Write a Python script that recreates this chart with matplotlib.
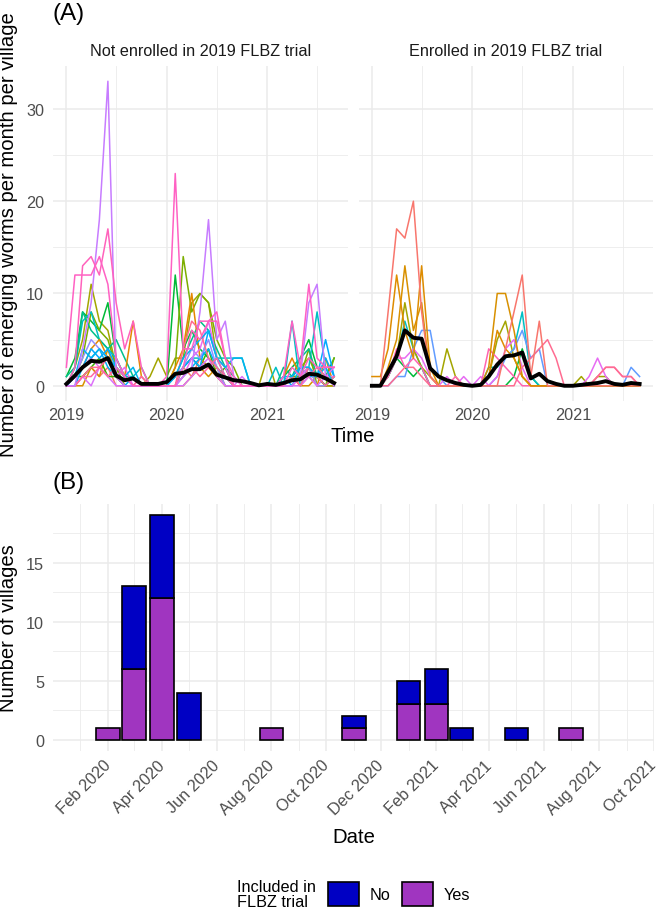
import matplotlib
matplotlib.use("Agg")
import matplotlib.pyplot as plt
import matplotlib.dates as mdates
import matplotlib.transforms as mtransforms
from matplotlib.patches import Patch
from matplotlib.ticker import MultipleLocator
import numpy as np
import pandas as pd

plt.rcParams['font.family'] = ['Liberation Sans', 'DejaVu Sans']

# ---------------- Data: panel A (monthly emerging worms per village) ----------------
months = pd.date_range('2019-01-01', '2021-09-01', freq='MS')  # 33 months

facet_titles = ["Not enrolled in 2019 FLBZ trial", "Enrolled in 2019 FLBZ trial"]

# Not enrolled villages (Jan 2019 .. Sep 2021)
nv_purple = [0,0,4,9,18,33,1,0,0,0,0,0,  0,0,1,2,8,18,5,7,1,0,0,0,  0,0,0,0,1,9,11,1,0]
nv_pink1  = [2,12,12,12,14,11,3,1,0,0,0,0,  1,23,4,4,7,7,8,3,1,0,0,0,  0,0,1,7,2,11,3,2,2]
nv_pink2  = [0,2,13,14,12,17,9,4,7,2,0,0,  0,0,2,6,5,7,7,3,0,0,0,0,  0,0,0,2,1,3,2,2,2]
nv_olive  = [0,2,5,11,7,6,2,0,0,0,1,3,  1,3,3,9,10,9,3,2,0,0,0,0,  3,0,0,1,2,3,1,0,0]
nv_green  = [1,3,8,7,6,9,3,1,0,0,0,0,  0,12,4,6,4,3,2,1,0,0,0,0,  0,0,1,2,3,5,2,1,3]
nv_lime   = [0,1,3,8,6,5,2,0,0,0,0,0,  0,2,14,8,10,9,5,3,2,0,0,0,  0,0,0,1,1,4,0,0,3]
nv_teal   = [0,2,7,8,5,4,3,1,1,2,0,0,  0,0,2,3,3,2,3,3,3,3,0,0,  0,2,0,7,0,2,8,2,0]
nv_green2 = [1,2,8,6,5,4,5,3,1,0,0,0,  0,1,3,5,7,6,4,2,1,0,0,0,  0,0,2,1,3,4,1,0,1]
nv_orange = [0,1,2,4,5,3,2,1,7,1,0,0,  0,2,4,10,3,2,1,0,0,0,0,0,  0,0,1,3,1,2,0,3,0]
nv_blue   = [0,1,2,4,3,4,2,1,0,0,0,0,  0,1,2,3,2,6,3,1,0,0,0,0,  0,0,0,1,2,2,1,5,1]
nv_violet = [0,1,3,5,4,3,1,0,0,0,0,0,  0,1,2,4,3,5,2,0,0,0,0,0,  0,0,0,0,1,2,0,0,1]
nv_magenta= [0,1,2,3,2,3,1,2,0,1,0,0,  0,0,1,3,4,7,3,2,0,0,0,0,  0,0,0,0,1,2,1,1,2]
nv_rose   = [0,0,1,2,2,3,1,0,0,1,0,0,  0,0,4,7,6,3,2,1,0,0,0,0,  0,0,0,1,0,2,1,0,1]
nv_sky    = [0,1,4,3,4,3,2,1,2,0,0,0,  0,1,3,4,5,6,3,2,3,3,0,0,  0,0,1,1,2,2,1,2,0]
nv_red    = [0,0,1,2,1,2,0,0,0,0,0,0,  0,0,2,1,3,2,1,0,0,0,0,0,  0,0,0,1,0,1,0,0,0]
nv_azure  = [0,0,2,3,4,2,1,0,1,0,0,0,  0,0,1,2,3,4,2,1,0,0,0,0,  0,0,1,0,2,1,1,3,1]
nv_grass  = [0,1,1,2,3,1,1,0,0,0,0,0,  0,0,2,3,2,4,1,2,0,0,0,0,  0,0,0,1,1,2,1,0,1]
nv_blush  = [0,0,1,1,2,1,2,1,0,0,0,0,  0,0,1,2,1,2,3,1,0,0,0,0,  0,0,0,0,1,1,2,1,0]
nv_amber  = [0,0,0,2,1,4,1,0,0,0,0,0,  0,0,0,1,2,1,2,0,0,0,0,0,  0,0,0,1,0,0,1,0,0]
nv_orchid = [0,0,1,0,2,1,0,0,0,0,0,0,  0,0,0,1,2,3,1,0,0,1,0,0,  0,0,0,0,0,1,0,1,1]

not_enrolled_series = [nv_red, nv_amber, nv_olive, nv_grass, nv_green, nv_lime, nv_teal, nv_green2,
                       nv_orange, nv_azure, nv_blue, nv_violet, nv_orchid, nv_magenta, nv_rose,
                       nv_sky, nv_blush, nv_purple, nv_pink2, nv_pink1]
not_enrolled_colors = ['#F8766D', '#D89000', '#A3A500', '#39B600', '#00BA38', '#7CAE00', '#00BFC4',
                       '#00C08B', '#E58700', '#00B0F6', '#00A9FF', '#9590FF', '#DC71FA', '#E76BF3',
                       '#FF6C91', '#00B4EF', '#FF67A4', '#C77CFF', '#FF62BC', '#FF61C3']
not_enrolled_mean = [0.2,1.1,2.0,2.7,2.6,3.0,1.1,0.6,0.8,0.2,0.2,0.2,
                     0.4,1.3,1.4,1.8,1.8,2.3,1.2,0.9,0.6,0.5,0.3,0.05,
                     0.2,0.1,0.3,0.6,0.7,1.3,1.2,0.8,0.3]

# Enrolled villages
ev_red     = [0,0,8,17,16,20,8,1,0,0,0,0,  0,0,0,0,4,8,12,1,7,0,0,0,  0,0,0,0,0,0,0,0,0]
ev_salmon  = [0,0,0,1,2,2,1,0,0,0,0,0,  0,0,0,0,0,0,2,3,4,5,3,0,  0,0,0,1,2,2,1,1,0]
ev_orange  = [1,1,4,12,6,3,13,2,0,0,0,0,  0,0,1,6,4,3,1,0,0,0,0,0,  0,0,0,0,0,0,0,0,0]
ev_orange2 = [0,0,2,5,13,6,9,1,0,0,0,0,  0,0,2,10,10,6,1,0,0,0,0,0,  0,0,0,0,0,0,0,0,0]
ev_olive   = [0,0,1,3,9,4,2,1,0,4,1,0,  0,0,1,5,7,3,1,0,0,0,0,0,  0,1,0,1,1,0,0,0,0]
ev_teal    = [0,0,1,3,7,4,2,0,0,0,0,0,  0,0,2,2,3,4,8,1,0,0,0,0,  0,0,0,0,0,0,0,0,0]
ev_green   = [0,0,1,3,2,1,2,0,0,0,0,0,  0,0,0,0,0,1,4,1,0,0,0,0,  0,0,0,0,0,0,0,0,0]
ev_blue    = [0,0,0,1,1,4,6,6,1,0,0,0,  0,0,0,1,3,4,6,3,4,0,0,0,  0,0,0,0,0,0,0,2,1]
ev_magenta = [0,0,1,3,3,4,3,1,0,1,0,1,  0,1,0,1,4,5,2,0,0,0,0,0,  0,0,1,3,1,0,0,0,0]
ev_pink    = [0,0,1,4,2,3,2,0,0,0,1,0,  0,0,4,3,2,1,0,0,0,0,0,0,  0,0,0,1,2,2,1,1,0]

enrolled_series = [ev_green, ev_teal, ev_olive, ev_blue, ev_magenta, ev_pink,
                   ev_orange2, ev_orange, ev_salmon, ev_red]
enrolled_colors = ['#00BA38', '#00BFC4', '#A3A500', '#619CFF', '#E76BF3', '#FF64B0',
                   '#D89000', '#DE8C00', '#FF6C91', '#F8766D']
enrolled_mean = [0,0,1.5,3.2,6.0,5.2,5.1,1.9,1.0,0.6,0.3,0.1,
                 0,0.1,1.0,2.3,3.2,3.3,3.6,0.8,1.3,0.5,0.2,0,
                 0,0.1,0.2,0.3,0.5,0.2,0.1,0.3,0.2]

# ---------------- Data: panel B (villages by month) ----------------
bar_months = pd.to_datetime(['2020-02-01', '2020-03-01', '2020-04-01', '2020-05-01', '2020-08-01',
                             '2020-11-01', '2021-01-01', '2021-02-01', '2021-03-01', '2021-05-01',
                             '2021-07-01'])
bar_yes = [1, 6, 12, 0, 1, 1, 3, 3, 0, 0, 1]
bar_no  = [0, 7, 7, 4, 0, 1, 2, 3, 1, 1, 0]
legend_labels = ['No', 'Yes']
color_no = '#0000C4'
color_yes = '#A035C0'

# ---------------- Figure ----------------
W, H = 660, 912
fig = plt.figure(figsize=(W / 100, H / 100), dpi=100)

def fx(px):
    return px / W

def fy(py):
    return 1 - py / H

GRID = '#EBEBEB'
TICKC = '#4D4D4D'
TS = 11.7
TITLE_S = 14.6

def style(ax):
    for s in ax.spines.values():
        s.set_visible(False)
    ax.grid(True, which='major', color=GRID, lw=1.1)
    ax.grid(True, which='minor', color=GRID, lw=0.6)
    ax.set_axisbelow(True)
    ax.tick_params(which='both', length=0, labelsize=TS, labelcolor=TICKC)
    ax.tick_params(axis='y', pad=6.5)
    ax.tick_params(axis='x', pad=4.5)

# Panel A
a_left, a_right = 53, 653
a_top, a_bot = 67, 402
gap = 11
pw = (a_right - a_left - gap) / 2
xa0 = months[0] - pd.Timedelta(days=48.7)
xa1 = months[-1] + pd.Timedelta(days=48.7)

for i in range(2):
    x0 = a_left + i * (pw + gap)
    ax = fig.add_axes([fx(x0), fy(a_bot), pw / W, (a_bot - a_top) / H])
    style(ax)
    series = not_enrolled_series if i == 0 else enrolled_series
    colors = not_enrolled_colors if i == 0 else enrolled_colors
    mean = not_enrolled_mean if i == 0 else enrolled_mean
    for vals, c in zip(series, colors):
        ax.plot(months, vals, color=c, lw=1.1)
    ax.plot(months, mean, color='black', lw=2.8)
    ax.set_xlim(xa0, xa1)
    ax.set_ylim(-1.65, 34.65)
    ax.yaxis.set_major_locator(MultipleLocator(10))
    ax.yaxis.set_minor_locator(MultipleLocator(5))
    ax.xaxis.set_major_locator(mdates.YearLocator())
    ax.xaxis.set_minor_locator(mdates.MonthLocator(bymonth=7))
    ax.xaxis.set_major_formatter(mdates.DateFormatter('%Y'))
    if i == 1:
        ax.tick_params(axis='y', labelleft=False)
    ax.set_title(facet_titles[i], fontsize=TS, color='#1A1A1A', pad=8)

fig.text(fx(9), fy((a_top + a_bot) / 2), 'Number of emerging worms per month per village',
         rotation=90, ha='center', va='center', fontsize=TITLE_S)
fig.text(fx((a_left + a_right) / 2), fy(437), 'Time', ha='center', va='center', fontsize=TITLE_S)
fig.text(fx(53), fy(14), '(A)', ha='left', va='center', fontsize=17.5)

# Panel B
b_left, b_right = 53, 654
b_top, b_bot = 505, 752
axb = fig.add_axes([fx(b_left), fy(b_bot), (b_right - b_left) / W, (b_bot - b_top) / H])
style(axb)
xb = mdates.date2num(bar_months)
yes = np.array(bar_yes)
no = np.array(bar_no)
m_yes = yes > 0
m_no = no > 0
axb.bar(xb[m_yes], yes[m_yes], width=26, color=color_yes, edgecolor='black', lw=1.2, zorder=3)
axb.bar(xb[m_no], no[m_no], bottom=yes[m_no], width=26, color=color_no, edgecolor='black', lw=1.2, zorder=3)
xb0 = mdates.date2num(pd.Timestamp('2020-01-01')) - 30.45
xb1 = mdates.date2num(pd.Timestamp('2021-09-01')) + 30.45
axb.set_xlim(xb0, xb1)
axb.set_ylim(-0.95, 19.95)
axb.yaxis.set_major_locator(MultipleLocator(5))
axb.yaxis.set_minor_locator(MultipleLocator(2.5))
axb.xaxis.set_major_locator(mdates.MonthLocator(bymonth=[2, 4, 6, 8, 10, 12]))
axb.xaxis.set_minor_locator(mdates.MonthLocator(bymonth=[1, 3, 5, 7, 9, 11]))
axb.xaxis.set_major_formatter(mdates.DateFormatter('%b %Y'))
shift = mtransforms.ScaledTranslation(-3.5 / 72, 0, fig.dpi_scale_trans)
for lab in axb.get_xticklabels():
    lab.set_rotation(45)
    lab.set_ha('right')
    lab.set_va('top')
    lab.set_rotation_mode('anchor')
    lab.set_transform(lab.get_transform() + shift)

fig.text(fx(9), fy((b_top + b_bot) / 2), 'Number of villages', rotation=90,
         ha='center', va='center', fontsize=TITLE_S)
fig.text(fx((b_left + b_right) / 2), fy(838), 'Date', ha='center', va='center', fontsize=TITLE_S)
fig.text(fx(53), fy(483), '(B)', ha='left', va='center', fontsize=17.5)

# Legend
fig.text(fx(237), fy(895), 'Included in\nFLBZ trial', ha='left', va='center', fontsize=TS, linespacing=1.0)
handles = [Patch(facecolor=color_no, edgecolor='black', lw=1.2),
           Patch(facecolor=color_yes, edgecolor='black', lw=1.2)]
fig.legend(handles, legend_labels, loc='center left', bbox_to_anchor=(fx(328), fy(895)),
           ncol=2, frameon=False, fontsize=TS, handlelength=1.9, handleheight=1.9,
           handletextpad=0.65, columnspacing=0.75, borderpad=0, borderaxespad=0)

fig.savefig('out.png', dpi=100)
